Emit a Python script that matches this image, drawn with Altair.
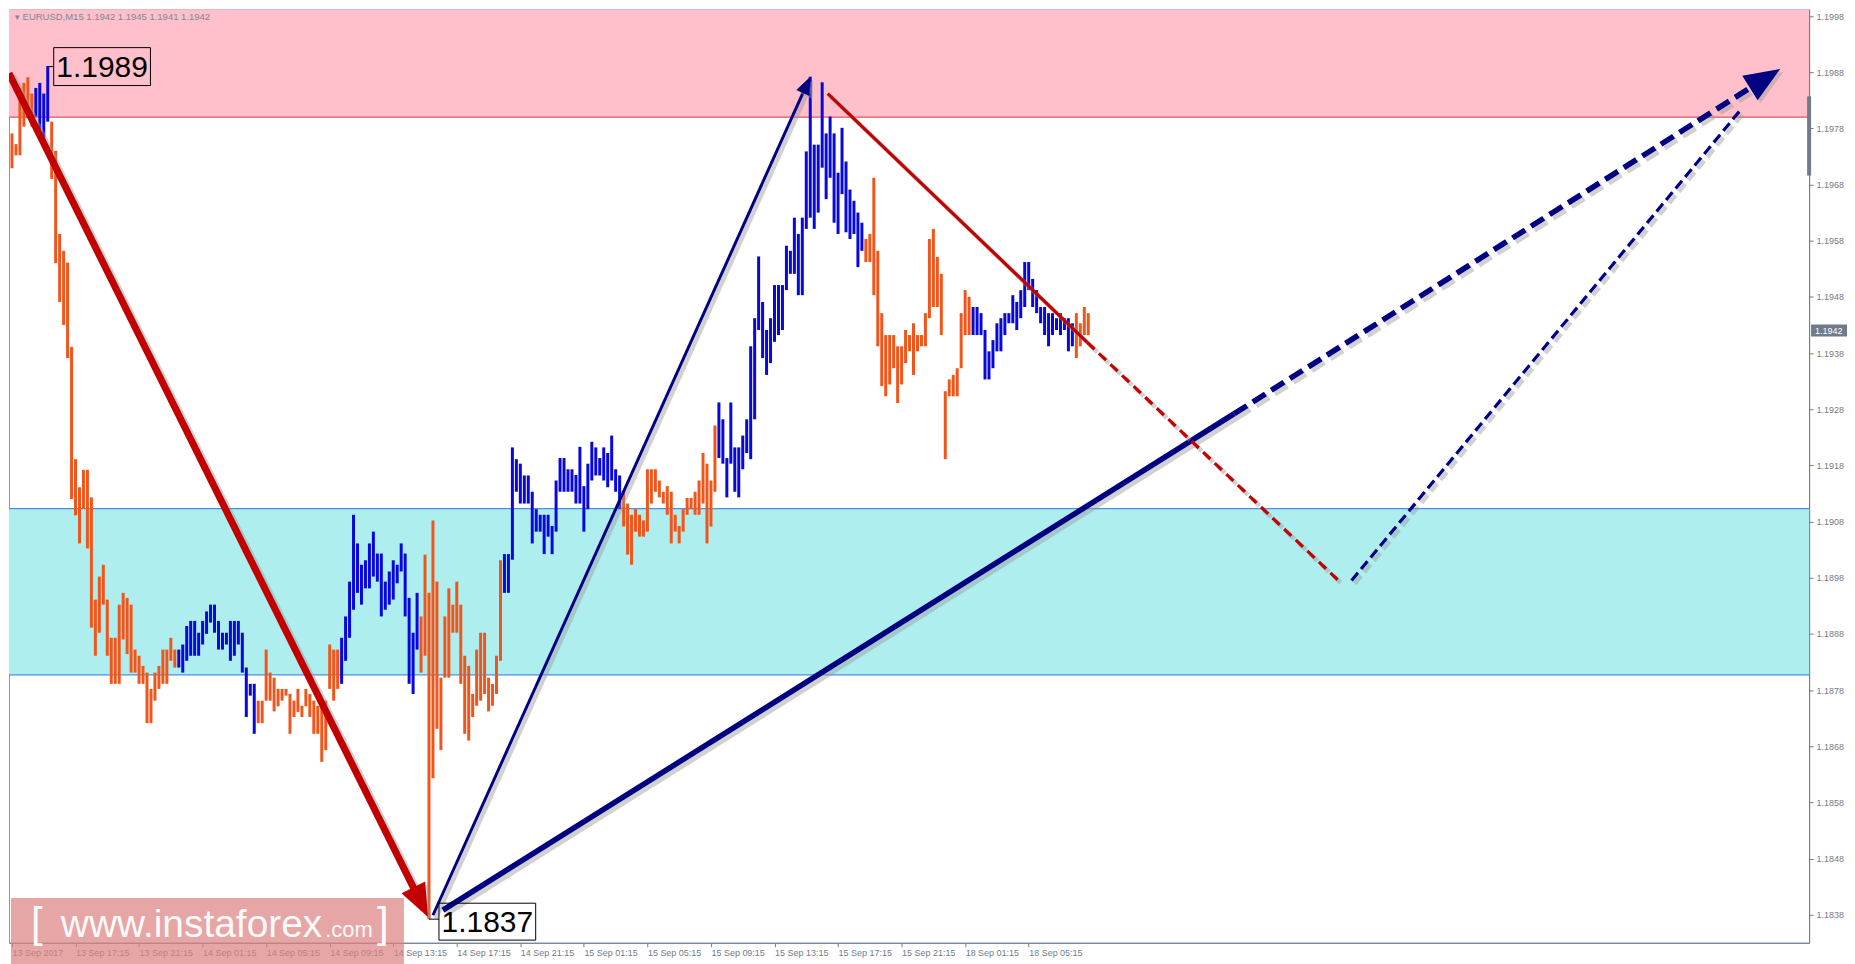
import math
import altair as alt
import pandas as pd

# ---------------- data ----------------
HIGH = [
    1.19771, 1.19752, 1.19852, 1.19861, 1.19871, 1.19842, 1.19852, 1.19861, 1.19842, 1.19891,
    1.19792, 1.19740, 1.19592, 1.19562, 1.19541, 1.19391, 1.19191, 1.19141, 1.19172, 1.19172,
    1.19123, 1.18941, 1.18982, 1.19003, 1.18941, 1.18873, 1.18873, 1.18932, 1.18953, 1.18944,
    1.18932, 1.18852, 1.18841, 1.18823, 1.18811, 1.18782, 1.18811, 1.18823, 1.18852, 1.18852,
    1.18873, 1.18852, 1.18852, 1.18861, 1.18894, 1.18903, 1.18903, 1.18882, 1.18903, 1.18920,
    1.18932, 1.18932, 1.18903, 1.18882, 1.18882, 1.18903, 1.18903, 1.18903, 1.18882, 1.18820,
    1.18791, 1.18791, 1.18761, 1.18761, 1.18852, 1.18811, 1.18802, 1.18782, 1.18782, 1.18782,
    1.18773, 1.18761, 1.18782, 1.18752, 1.18782, 1.18773, 1.18761, 1.18752, 1.18761, 1.18761,
    1.18861, 1.18852, 1.18852, 1.18873, 1.18911, 1.18973, 1.19092, 1.19041, 1.19003, 1.19011,
    1.19041, 1.19062, 1.19023, 1.19023, 1.18973, 1.18991, 1.19011, 1.19003, 1.19041, 1.19023,
    1.18944, 1.18882, 1.18953, 1.18911, 1.19021, 1.18953, 1.19082, 1.18973, 1.18802, 1.18911,
    1.18961, 1.18932, 1.18973, 1.18932, 1.18841, 1.18823, 1.18773, 1.18852, 1.18882, 1.18882,
    1.18802, 1.18791, 1.18841, 1.19011, 1.19022, 1.19022, 1.19212, 1.19191, 1.19183, 1.19162,
    1.19162, 1.19133, 1.19102, 1.19092, 1.19092, 1.19092, 1.19072, 1.19153, 1.19193, 1.19193,
    1.19173, 1.19173, 1.19163, 1.19213, 1.19143, 1.19183, 1.19222, 1.19212, 1.19193, 1.19212,
    1.19202, 1.19233, 1.19173, 1.19162, 1.19133, 1.19112, 1.19092, 1.19102, 1.19092, 1.19082,
    1.19173, 1.19173, 1.19173, 1.19153, 1.19133, 1.19143, 1.19133, 1.19092, 1.19072, 1.19102,
    1.19122, 1.19122, 1.19133, 1.19153, 1.19202, 1.19183, 1.19153, 1.19251, 1.19292, 1.19262,
    1.19193, 1.19292, 1.19212, 1.19212, 1.19233, 1.19262, 1.19392, 1.19442, 1.19552, 1.19471,
    1.19421, 1.19442, 1.19501, 1.19501, 1.19501, 1.19571, 1.19562, 1.19621, 1.19592, 1.19621,
    1.19739, 1.19872, 1.19751, 1.19751, 1.19862, 1.19771, 1.19801, 1.19771, 1.19701, 1.19781,
    1.19721, 1.19671, 1.19651, 1.19630, 1.19612, 1.19583, 1.19592, 1.19692, 1.19562, 1.19451,
    1.19412, 1.19412, 1.19412, 1.19392, 1.19392, 1.19421, 1.19412, 1.19433, 1.19412, 1.19412,
    1.19451, 1.19583, 1.19601, 1.19551, 1.19521, 1.19312, 1.19333, 1.19341, 1.19353, 1.19451,
    1.19492, 1.19480, 1.19462, 1.19462, 1.19451, 1.19421, 1.19383, 1.19403, 1.19433, 1.19442,
    1.19451, 1.19451, 1.19483, 1.19471, 1.19492, 1.19542, 1.19542, 1.19512, 1.19492, 1.19462,
    1.19462, 1.19451, 1.19451, 1.19442, 1.19451, 1.19442, 1.19442, 1.19433, 1.19451, 1.19433,
    1.19462, 1.19451,
]
LOW = [
    1.19709, 1.19732, 1.19732, 1.19783, 1.19798, 1.19783, 1.19801, 1.19759, 1.19751, 1.19792,
    1.19690, 1.19540, 1.19471, 1.19430, 1.19371, 1.19120, 1.19091, 1.19041, 1.19103, 1.19032,
    1.18891, 1.18841, 1.18882, 1.18932, 1.18841, 1.18791, 1.18791, 1.18791, 1.18870, 1.18844,
    1.18811, 1.18811, 1.18791, 1.18791, 1.18721, 1.18721, 1.18761, 1.18782, 1.18791, 1.18791,
    1.18832, 1.18820, 1.18820, 1.18811, 1.18832, 1.18841, 1.18841, 1.18841, 1.18861, 1.18880,
    1.18900, 1.18882, 1.18852, 1.18852, 1.18861, 1.18832, 1.18841, 1.18861, 1.18811, 1.18732,
    1.18770, 1.18702, 1.18721, 1.18721, 1.18761, 1.18761, 1.18742, 1.18751, 1.18761, 1.18770,
    1.18702, 1.18732, 1.18741, 1.18732, 1.18751, 1.18732, 1.18702, 1.18702, 1.18652, 1.18673,
    1.18782, 1.18761, 1.18782, 1.18791, 1.18832, 1.18873, 1.18923, 1.18953, 1.18932, 1.18961,
    1.18961, 1.18982, 1.18973, 1.18911, 1.18923, 1.18932, 1.18941, 1.18970, 1.18991, 1.18911,
    1.18791, 1.18773, 1.18852, 1.18811, 1.18841, 1.18372, 1.18623, 1.18711, 1.18673, 1.18802,
    1.18802, 1.18882, 1.18882, 1.18791, 1.18702, 1.18690, 1.18732, 1.18752, 1.18761, 1.18773,
    1.18742, 1.18752, 1.18773, 1.18832, 1.18953, 1.18953, 1.19012, 1.19133, 1.19112, 1.19112,
    1.19112, 1.19041, 1.19062, 1.19062, 1.19022, 1.19053, 1.19022, 1.19062, 1.19133, 1.19133,
    1.19133, 1.19133, 1.19112, 1.19112, 1.19062, 1.19102, 1.19153, 1.19162, 1.19162, 1.19153,
    1.19141, 1.19153, 1.19133, 1.19102, 1.19071, 1.19021, 1.19003, 1.19062, 1.19053, 1.19053,
    1.19062, 1.19112, 1.19133, 1.19123, 1.19112, 1.19092, 1.19041, 1.19062, 1.19041, 1.19062,
    1.19092, 1.19102, 1.19092, 1.19092, 1.19112, 1.19041, 1.19071, 1.19133, 1.19193, 1.19183,
    1.19123, 1.19183, 1.19133, 1.19123, 1.19173, 1.19202, 1.19191, 1.19262, 1.19421, 1.19371,
    1.19341, 1.19362, 1.19400, 1.19412, 1.19421, 1.19492, 1.19521, 1.19521, 1.19483, 1.19483,
    1.19601, 1.19621, 1.19601, 1.19630, 1.19710, 1.19654, 1.19692, 1.19612, 1.19592, 1.19663,
    1.19595, 1.19583, 1.19592, 1.19533, 1.19562, 1.19542, 1.19542, 1.19483, 1.19392, 1.19321,
    1.19303, 1.19324, 1.19353, 1.19291, 1.19324, 1.19362, 1.19383, 1.19341, 1.19383, 1.19392,
    1.19392, 1.19442, 1.19462, 1.19462, 1.19412, 1.19191, 1.19303, 1.19303, 1.19303, 1.19353,
    1.19412, 1.19412, 1.19412, 1.19412, 1.19412, 1.19333, 1.19333, 1.19353, 1.19383, 1.19383,
    1.19412, 1.19433, 1.19433, 1.19421, 1.19442, 1.19462, 1.19492, 1.19462, 1.19451, 1.19433,
    1.19412, 1.19392, 1.19412, 1.19421, 1.19412, 1.19421, 1.19383, 1.19392, 1.19371, 1.19392,
    1.19412, 1.19412,
]
TREND = "".join([
    "OOOOOOBBBB", "OOOOOOOOOO", "OOOOOOOOOO", "OOOOOOOOOO", "OOBBBBBBBB",
    "BBBBBBBBBB", "BBOOOOOOOO", "OOOOOOOOOO", "OOOBBBBBBB", "BBBBBBBBBB",
    "BBBOOOOOOO", "OOOOOOOOOO", "OOOOBBBBBB", "BBBBBBBBBB", "BBBBBBBBBB",
    "BBBBOOOOOO", "OOOOOOOOOO", "OOOOOOOOBB", "BBBBBBBBBB", "BBBBBBBBBB",
    "BBBBBBBBBB", "BBBBBOOOOO", "OOOOOOOOOO", "OOOOOOOOOO", "OOBBBBBBBB",
    "BBBBBBBBBB", "BBBBBBBBOO", "OO",
])
assert len(HIGH) == len(LOW) == len(TREND)

Y_TICKS = [1.1838, 1.1848, 1.1858, 1.1868, 1.1878, 1.1888, 1.1898, 1.1908,
           1.1918, 1.1928, 1.1938, 1.1948, 1.1958, 1.1968, 1.1978, 1.1988, 1.1998]
X_TICKS = [0, 16, 32, 48, 64, 80, 96, 112, 128, 144, 160, 176, 192, 208, 224, 240, 256]
X_LABELS = ["13 Sep 2017", "13 Sep 17:15", "13 Sep 21:15", "14 Sep 01:15", "14 Sep 05:15",
            "14 Sep 09:15", "14 Sep 13:15", "14 Sep 17:15", "14 Sep 21:15", "15 Sep 01:15",
            "15 Sep 05:15", "15 Sep 09:15", "15 Sep 13:15", "15 Sep 17:15", "15 Sep 21:15",
            "18 Sep 01:15", "18 Sep 05:15"]

SELL_ZONE_LOW = 1.1980
BUY_ZONE = [1.18807, 1.19103]
LAST_PRICE = 1.1942
HEADER = "\u25be EURUSD,M15  1.1942 1.1945 1.1941 1.1942"
SCROLL = [1.19696, 1.19837]

# wave lines (bar index, price)
RED_ARROW_I, RED_ARROW_P = [-0.75, 104.75], [1.19878, 1.18376]
NAVY_THIN_I, NAVY_THIN_P = [106.0, 201.0], [1.18379, 1.19872]
NAVY_THICK_I, NAVY_THICK_P = [108.5, 307.75], [1.18388, 1.19272]
NAVY_FCST_I, NAVY_FCST_P = [307.75, 445.25], [1.19272, 1.19886]
RED_THIN_I, RED_THIN_P = [205.4, 270.75], [1.19842, 1.19399]
RED_FCST_I, RED_FCST_P = [270.75, 334.0], [1.19399, 1.18975]
NAVY_DASH_I, NAVY_DASH_P = [337.3, 435.5], [1.18975, 1.19815]

HI_LABEL = ("1.1989", 9, 1.1989)
LO_LABEL = ("1.1837", 105, 1.18372)

# ---------------- layout / style ----------------
W, H = 1805, 936
X_MIN, X_MAX = -0.75, 452.5
Y_MIN, Y_MAX = 1.18330, 1.19992
SX = W / (X_MAX - X_MIN)
SY = H / (Y_MAX - Y_MIN)

ORANGE = "#f0561c"
BLUE = "#0808dc"
NAVY = "#000080"
DARKRED = "#c20000"
GRAY = "#6f7c89"
SHADOW = "#9a9a9a"
FONT = "Liberation Sans"

XS = alt.Scale(domain=[X_MIN, X_MAX], nice=False, zero=False)
YS = alt.Scale(domain=[Y_MIN, Y_MAX], nice=False, zero=False)

X_AXIS = alt.Axis(values=X_TICKS,
                  labelExpr="[" + ",".join(f"'{l}'" for l in X_LABELS) + "][round(datum.value/16)]",
                  labelAlign="left", labelBaseline="top", labelPadding=2, tickSize=4,
                  labelFontSize=9, labelFont=FONT, labelColor=GRAY, tickColor=GRAY,
                  domainColor=GRAY, grid=False, title=None, labelOverlap=False, labelFlush=False)
Y_AXIS = alt.Axis(orient="right", values=Y_TICKS, format=".4f", tickSize=4, labelPadding=3,
                  labelFontSize=9, labelFont=FONT, labelColor=GRAY, tickColor=GRAY,
                  domainColor=GRAY, grid=False, title=None, labelOverlap=False, labelFlush=False)


def xenc(field="i"):
    return alt.X(f"{field}:Q", scale=XS, axis=X_AXIS)


def yenc(field="p"):
    return alt.Y(f"{field}:Q", scale=YS, axis=Y_AXIS)


layers = []

# zones
pink_df = pd.DataFrame({"p": [SELL_ZONE_LOW]})
layers.append(alt.Chart(pink_df).mark_rect(color="#ffc0cb", clip=True).encode(
    x=alt.value(0), x2=alt.value(W), y=yenc("p"), y2=alt.value(0)))
layers.append(alt.Chart(pink_df).mark_rule(color="#e0585c", strokeWidth=1.3).encode(
    x=alt.value(0), x2=alt.value(W), y=yenc("p")))
buy_df = pd.DataFrame({"lo": [BUY_ZONE[0]], "hi": [BUY_ZONE[1]]})
layers.append(alt.Chart(buy_df).mark_rect(color="#afeeee").encode(
    x=alt.value(0), x2=alt.value(W), y=yenc("lo"), y2=alt.Y2("hi")))
buy_lines = pd.DataFrame({"p": BUY_ZONE})
layers.append(alt.Chart(buy_lines).mark_rule(color="#4a8fe0", strokeWidth=1.2).encode(
    x=alt.value(0), x2=alt.value(W), y=yenc("p")))

# price bars
bars_df = pd.DataFrame({"i": list(range(len(HIGH))), "hi": HIGH, "lo": LOW, "c": list(TREND)})
layers.append(alt.Chart(bars_df).mark_rule(strokeWidth=3).encode(
    x=xenc("i"), y=yenc("lo"), y2=alt.Y2("hi"),
    color=alt.Color("c:N", scale=alt.Scale(domain=["O", "B"], range=[ORANGE, BLUE]), legend=None)))


def back(i_vals, p_vals, px):
    i0, i1 = i_vals
    p0, p1 = p_vals
    dx, dy = (i1 - i0) * SX, (p1 - p0) * SY
    f = px / math.hypot(dx, dy)
    return [i0, i1 - (i1 - i0) * f], [p0, p1 - (p1 - p0) * f]


def seg(i_vals, p_vals, color, width, dash=None):
    df = pd.DataFrame({"i": i_vals, "p": p_vals, "k": list(range(len(i_vals)))})
    extra = {"strokeDash": dash} if dash else {}
    base = alt.Chart(df)
    sh = base.mark_line(color=SHADOW, opacity=0.45, strokeWidth=width + 1.5, xOffset=3, yOffset=3,
                        clip=True, strokeCap="butt", **extra).encode(x=xenc(), y=yenc(), order="k:Q")
    ln = base.mark_line(color=color, strokeWidth=width, clip=True, strokeCap="butt",
                        **extra).encode(x=xenc(), y=yenc(), order="k:Q")
    return [sh, ln]


ARROW_PATH = "M0,0L0.8,2L-0.8,2Z"


def head(i_vals, p_vals, color, length):
    i0, i1 = i_vals
    p0, p1 = p_vals
    ang = math.degrees(math.atan2((i1 - i0) * SX, (p1 - p0) * SY)) % 360
    df = pd.DataFrame({"i": [i1], "p": [p1]})
    base = alt.Chart(df)
    sh = base.mark_point(shape=ARROW_PATH, size=length ** 2, angle=ang, filled=True, color=SHADOW,
                         opacity=0.45, xOffset=3, yOffset=3).encode(x=xenc(), y=yenc())
    hd = base.mark_point(shape=ARROW_PATH, size=length ** 2, angle=ang, filled=True, color=color,
                         opacity=1).encode(x=xenc(), y=yenc())
    return [sh, hd]


# waves
ri, rp = back(RED_ARROW_I, RED_ARROW_P, 18)
layers += seg(ri, rp, DARKRED, 7)
layers += head(RED_ARROW_I, RED_ARROW_P, DARKRED, 33)

ni, np_ = back(NAVY_THIN_I, NAVY_THIN_P, 9)
layers += seg(ni, np_, NAVY, 3)
layers += head(NAVY_THIN_I, NAVY_THIN_P, NAVY, 18)

layers += seg(NAVY_THICK_I, NAVY_THICK_P, NAVY, 5.5)
fi, fp = back(NAVY_FCST_I, NAVY_FCST_P, 20)
layers += seg(fi, fp, NAVY, 5.5, dash=[15, 7])
layers += head(NAVY_FCST_I, NAVY_FCST_P, NAVY, 36)

layers += seg(RED_THIN_I, RED_THIN_P, DARKRED, 3.2)
layers += seg(RED_FCST_I, RED_FCST_P, DARKRED, 3.2, dash=[10, 6])
layers += seg(NAVY_DASH_I, NAVY_DASH_P, NAVY, 3.2, dash=[10, 5])


def label_box(text, i, p, left_px, width_px, height_px, yshift_px=0):
    i_l = i + left_px / SX
    i_r = i + (left_px + width_px) / SX
    pc = p - yshift_px / SY
    df = pd.DataFrame({"ia": [i], "pa": [p], "i": [i_l], "i2": [i_r],
                       "pb": [pc - height_px / 2 / SY], "pt": [pc + height_px / 2 / SY],
                       "ic": [(i_l + i_r) / 2], "pc": [pc], "t": [text]})
    base = alt.Chart(df)
    return [
        base.mark_rule(color="black", strokeWidth=1).encode(x=xenc("ia"), x2=alt.X2("i"), y=yenc("pa")),
        base.mark_rect(fill="white", fillOpacity=0, stroke="black", strokeWidth=1).encode(
            x=xenc("i"), x2=alt.X2("i2"), y=yenc("pb"), y2=alt.Y2("pt")),
        base.mark_text(font=FONT, fontSize=30, align="center", baseline="middle", color="black", dy=1).encode(
            x=xenc("ic"), y=yenc("pc"), text="t:N"),
    ]


layers += label_box(HI_LABEL[0], HI_LABEL[1], HI_LABEL[2], 6, 97, 38, 0)
layers += label_box(LO_LABEL[0], LO_LABEL[1], LO_LABEL[2], 10, 97, 37, 2.5)

# header
layers.append(alt.Chart(pd.DataFrame({"t": [HEADER]})).mark_text(
    align="left", baseline="middle", font=FONT, fontSize=9.5, color="#7d8893").encode(
    x=alt.value(6), y=alt.value(8), text="t:N"))

# watermark
wm = pd.DataFrame({"a": ["["], "b": ["www.instaforex"], "c": [".com"], "d": ["]"]})
layers.append(alt.Chart(wm).mark_rect(fill="#dc8080", opacity=0.7).encode(
    x=alt.value(2), x2=alt.value(396), y=alt.value(H - 45), y2=alt.value(H + 22)))
for col, xpos, fs in [("a", 22, 42), ("b", 52, 39), ("c", 317, 22), ("d", 369, 42)]:
    layers.append(alt.Chart(wm).mark_text(align="left", baseline="alphabetic", font=FONT, fontSize=fs,
                                          color="white", opacity=0.95).encode(
        x=alt.value(xpos), y=alt.value(H - 6), text=f"{col}:N"))

# last price tag + scroll marker on the price scale
tag = pd.DataFrame({"p": [LAST_PRICE], "pb": [LAST_PRICE - 6 / SY], "pt": [LAST_PRICE + 6 / SY],
                    "t": [f"{LAST_PRICE:.4f}"]})
layers.append(alt.Chart(tag).mark_rect(fill="#6f7b87").encode(
    x=alt.value(W + 2), x2=alt.value(W + 38), y=yenc("pb"), y2=alt.Y2("pt")))
layers.append(alt.Chart(tag).mark_text(align="left", baseline="middle", font=FONT, fontSize=9,
                                       color="white").encode(
    x=alt.value(W + 6), y=yenc("p"), text="t:N"))
scroll = pd.DataFrame({"lo": [SCROLL[0]], "hi": [SCROLL[1]]})
layers.append(alt.Chart(scroll).mark_rule(color="#6f7b87", strokeWidth=4).encode(
    x=alt.value(W), y=yenc("lo"), y2=alt.Y2("hi")))

chart = alt.layer(*layers).properties(
    width=W, height=H, padding=0, background="white"
).configure_view(stroke="#8c98a4", strokeWidth=1)

chart.save("out.html", embed_options={"renderer": "svg", "actions": False})
